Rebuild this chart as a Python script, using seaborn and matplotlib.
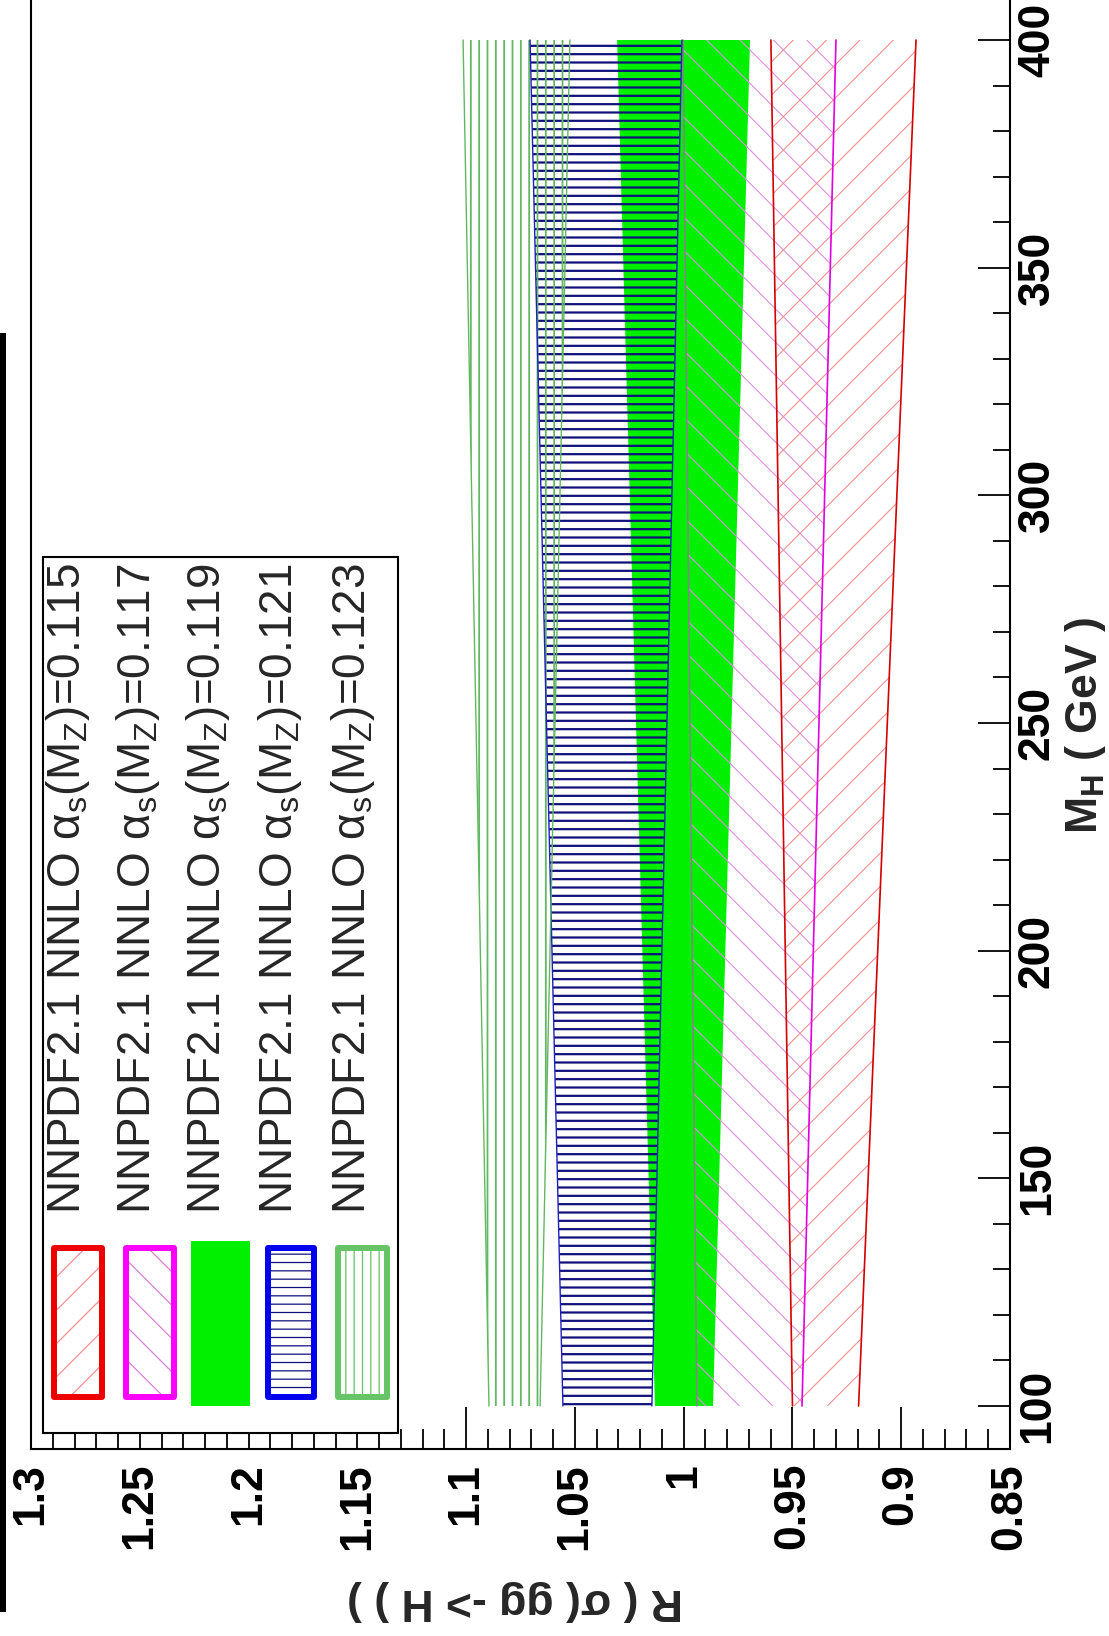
import numpy as np
import pandas as pd
import matplotlib
matplotlib.use("Agg")
import matplotlib.pyplot as plt
import seaborn as sns
from matplotlib.patches import Rectangle
from matplotlib.ticker import MultipleLocator

# ---------------- data ----------------
mh_points = [100, 400]                      # M_H (GeV)
alphas_labels = ["0.115", "0.117", "0.119", "0.121", "0.123"]
band_lo_0115 = [0.9196, 0.8932]
band_hi_0115 = [0.9500, 0.9599]
band_lo_0117 = [0.9456, 0.9300]
band_hi_0117 = [0.9939, 1.0003]
band_lo_0119 = [0.9865, 0.9695]
band_hi_0119 = [1.0132, 1.0306]
band_lo_0121 = [1.0146, 1.0008]
band_hi_0121 = [1.0555, 1.0706]
band_lo_0123 = [1.0660, 1.0523]
band_hi_0123 = [1.0895, 1.1014]
r_ticks = [1.3, 1.25, 1.2, 1.15, 1.1, 1.05, 1.0, 0.95, 0.9, 0.85]
r_tick_labels = ["1.3", "1.25", "1.2", "1.15", "1.1", "1.05", "1", "0.95", "0.9", "0.85"]
mh_ticks = [100, 150, 200, 250, 300, 350, 400]
mh_tick_labels = ["100", "150", "200", "250", "300", "350", "400"]

# ---------------- style ----------------
sns.set_theme(style="white")
plt.rcParams["font.family"] = ["Liberation Sans", "DejaVu Sans"]
plt.rcParams["mathtext.fontset"] = "custom"
plt.rcParams["mathtext.rm"] = "Liberation Sans"
plt.rcParams["mathtext.it"] = "Liberation Sans:italic"
plt.rcParams["mathtext.bf"] = "Liberation Sans:bold"
plt.rcParams["axes.edgecolor"] = "black"
plt.rcParams["axes.linewidth"] = 1.5
plt.rcParams["xtick.color"] = "black"
plt.rcParams["ytick.color"] = "black"
plt.rcParams["hatch.linewidth"] = 0.9

W, H = 1109, 1636
def fx(x):
    return x / W
def fy(y):
    return 1 - y / H

fig = plt.figure(figsize=(W / 100, H / 100), dpi=100)
fig.patch.set_facecolor("white")
ax = fig.add_axes([fx(31), fy(1449), (1010 - 31) / W, 1449 / H])
ax.set_facecolor("white")

px_per_gev = (1406 - 40) / 300.0
ax.set_ylim(100 - (1449 - 1406) / px_per_gev, 400 + 40 / px_per_gev)
ax.set_xlim(1.3, 0.85)

def hatch_band(lo, hi, color, hatch, hlw, z):
    p = ax.fill_betweenx(mh_points, lo, hi, facecolor="none", edgecolor=color,
                         hatch=hatch, linewidth=0, zorder=z)
    try:
        p.set_hatch_linewidth(hlw)
    except Exception:
        pass
    return p

# green solid band (alpha_s = 0.119)
ax.fill_betweenx(mh_points, band_lo_0119, band_hi_0119, facecolor="#00f000",
                 edgecolor="none", linewidth=0, zorder=1)
# hatched bands
hatch_band(band_lo_0117, band_hi_0117, "#e08ee0", "\\", 0.8, 2)
hatch_band(band_lo_0115, band_hi_0115, "#f29090", "/", 0.8, 3)
hatch_band(band_lo_0121, band_hi_0121, "#10107a", "--", 1.6, 4)
hatch_band(band_lo_0123, band_hi_0123, "#62b862", "||", 1.3, 5)

edge_styles = [
    (band_lo_0115, "#d40000", 1.2), (band_hi_0115, "#d40000", 1.2),
    (band_lo_0117, "#e000e0", 1.2), (band_hi_0117, "#a070a0", 1.0),
    (band_lo_0121, "#2020c0", 1.0), (band_hi_0121, "#2020c0", 1.0),
    (band_lo_0123, "#62b862", 1.0), (band_hi_0123, "#62b862", 1.0),
]
for vals, col, lw in edge_styles:
    sns.lineplot(x=vals, y=mh_points, orient="y", estimator=None, color=col,
                 linewidth=lw, ax=ax, legend=False, zorder=6)

# ---------------- axes & ticks ----------------
ax.spines["top"].set_visible(False)
for s in ["left", "right", "bottom"]:
    ax.spines[s].set_linewidth(1.5)
    ax.spines[s].set_color("black")

ax.set_xticks(r_ticks, labels=r_tick_labels, rotation=90, fontsize=32,
              fontweight="bold")
ax.xaxis.set_minor_locator(MultipleLocator(0.01))
ax.tick_params(axis="x", which="major", direction="in", length=30, width=1.3,
               pad=10, bottom=True, top=False)
ax.tick_params(axis="x", which="minor", direction="in", length=14.5, width=1.3,
               bottom=True, top=False)

ax.yaxis.tick_right()
ax.set_yticks(mh_ticks, labels=mh_tick_labels, rotation=90, fontsize=32,
              fontweight="bold", va="center")
ax.yaxis.set_minor_locator(MultipleLocator(10))
ax.tick_params(axis="y", which="major", direction="in", length=23, width=1.3,
               pad=5, right=True, left=False)
ax.tick_params(axis="y", which="minor", direction="in", length=12, width=1.3,
               right=True, left=False)
ax.set_xlabel("")
ax.set_ylabel("")
ax.grid(False)

# axis titles (the whole chart is rotated by 90 degrees)
fig.text(fx(515), fy(1601), "R ( σ( gg -> H ) )", rotation=180, ha="center",
         va="center", fontsize=32, fontweight="bold")
fig.text(fx(1085), fy(726), r"M$_\mathbf{H}$ ( GeV )", rotation=90, ha="center",
         va="center", fontsize=32, fontweight="bold")

# ---------------- legend ----------------
fig.add_artist(Rectangle((fx(43), fy(1433)), (398 - 43) / W, (1433 - 557) / H,
                         transform=fig.transFigure, facecolor="white",
                         edgecolor="black", linewidth=1.5, zorder=5))

leg_specs = [
    # x0, x1, border colour, hatch colour, hatch, solid
    (51, 105, "#ee0000", "#f29090", "/", False),
    (123, 177, "#ff00ff", "#d880d8", "\\", False),
    (191, 250, "#00f000", None, None, True),
    (265, 317, "#0000ee", "#10107a", "--", False),
    (335, 390, "#66c466", "#66c466", "||", False),
]
for x0, x1, bcol, hcol, hatch, solid in leg_specs:
    if solid:
        fig.add_artist(Rectangle((fx(x0), fy(1406)), (x1 - x0) / W, (1406 - 1241) / H,
                                 transform=fig.transFigure, facecolor=bcol,
                                 edgecolor="none", zorder=6))
        continue
    hp = Rectangle((fx(x0 + 3), fy(1397)), (x1 - x0 - 6) / W, (1397 - 1248) / H,
                   transform=fig.transFigure, facecolor="white", edgecolor=hcol,
                   hatch=hatch, linewidth=0, zorder=6)
    fig.add_artist(hp)
    fig.add_artist(Rectangle((fx(x0 + 3), fy(1397)), (x1 - x0 - 6) / W, (1397 - 1248) / H,
                             transform=fig.transFigure, fill=False, edgecolor=bcol,
                             linewidth=4.3, zorder=7, joinstyle="round"))

text_baselines = [80, 150, 220, 292, 365]
for xb, lab in zip(text_baselines, alphas_labels):
    fig.text(fx(xb), fy(1214), r"NNPDF2.1 NNLO α$_\mathrm{s}$(M$_\mathrm{Z}$)=" + lab,
             rotation=90, rotation_mode="anchor", ha="left", va="baseline",
             fontsize=33, zorder=8)

# black bar at the left edge
fig.add_artist(Rectangle((0, fy(1612)), 6 / W, (1612 - 333) / H,
                         transform=fig.transFigure, facecolor="black",
                         edgecolor="none", zorder=9))

fig.savefig("out.png", dpi=100)
